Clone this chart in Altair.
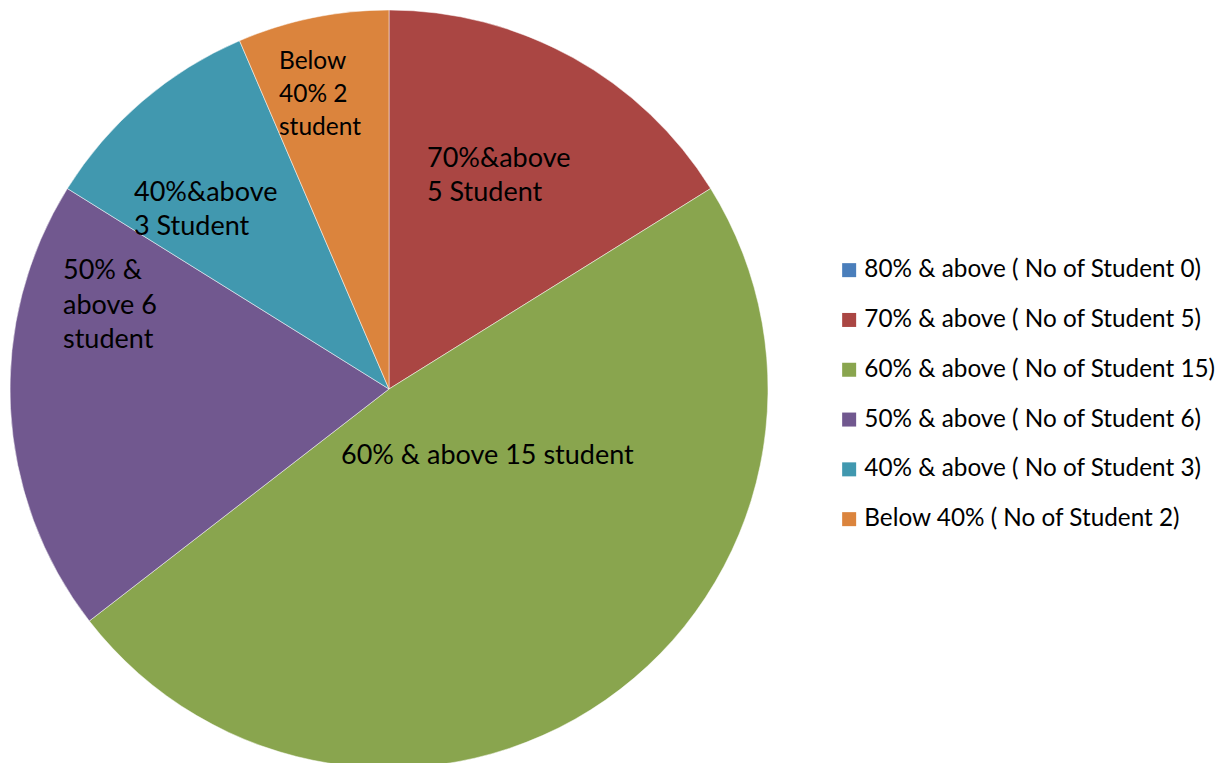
import altair as alt
import pandas as pd

categories = [
    "80% & above ( No of Student 0)",
    "70% & above ( No of Student 5)",
    "60% & above ( No of Student 15)",
    "50% & above ( No of Student 6)",
    "40% & above ( No of Student 3)",
    "Below 40% ( No of Student 2)",
]
students = [0, 5, 15, 6, 3, 2]
slice_labels = [
    "",
    "70%&above\n5 Student",
    "60% & above 15 student",
    "50% &\nabove 6\nstudent",
    "40%&above\n3 Student",
    "Below\n40% 2\nstudent",
]
colors = ["#4A7EBB", "#AA4643", "#89A54E", "#71588F", "#4198AF", "#DB843D"]

df = pd.DataFrame({
    "category": categories,
    "students": students,
    "label": slice_labels,
    "idx": list(range(len(categories))),
})

CX, CY, R = 381, 381, 379
FONT = "Lato"

base = alt.Chart(df)

pie = base.mark_arc(outerRadius=R, stroke="#ffffff", strokeWidth=0.5).encode(
    theta=alt.Theta("students:Q", stack=True),
    order=alt.Order("idx:Q", sort="ascending"),
    color=alt.Color(
        "category:N",
        scale=alt.Scale(domain=categories, range=colors),
        sort=categories,
        legend=alt.Legend(
            title=None,
            orient="none",
            legendX=829,
            legendY=250,
            symbolType="square",
            symbolSize=196,
            symbolStrokeWidth=0,
            labelFont=FONT,
            labelFontSize=24.3,
            labelColor="#000000",
            labelOffset=3,
            labelLimit=500,
            rowPadding=24.8,
            padding=0,
        ),
    ),
    x=alt.value(CX),
    y=alt.value(CY),
)

# label placement (offsets from pie centre), font size, line height
label_style = {
    "70% & above ( No of Student 5)": (38, -243, 27, 34),
    "60% & above ( No of Student 15)": (-48, 54, 27, 34),
    "50% & above ( No of Student 6)": (-326, -131, 27, 34.5),
    "40% & above ( No of Student 3)": (-255, -209, 27, 34),
    "Below 40% ( No of Student 2)": (-110, -339, 24.5, 33),
}

layers = [pie]
for cat, (dx, dy, fs, lh) in label_style.items():
    layers.append(
        base.transform_filter(alt.datum.category == cat)
        .mark_text(
            align="left",
            baseline="top",
            dx=dx,
            dy=dy,
            font=FONT,
            fontSize=fs,
            lineHeight=lh,
            lineBreak="\n",
            color="#000000",
        )
        .encode(text="label:N", x=alt.value(CX), y=alt.value(CY))
    )

chart = (
    alt.layer(*layers)
    .properties(width=1216, height=755, padding=0, autosize=alt.AutoSizeParams(type="none"))
    .configure_view(stroke=None)
)

chart.save("out.html", embed_options={"renderer": "svg", "actions": False})
